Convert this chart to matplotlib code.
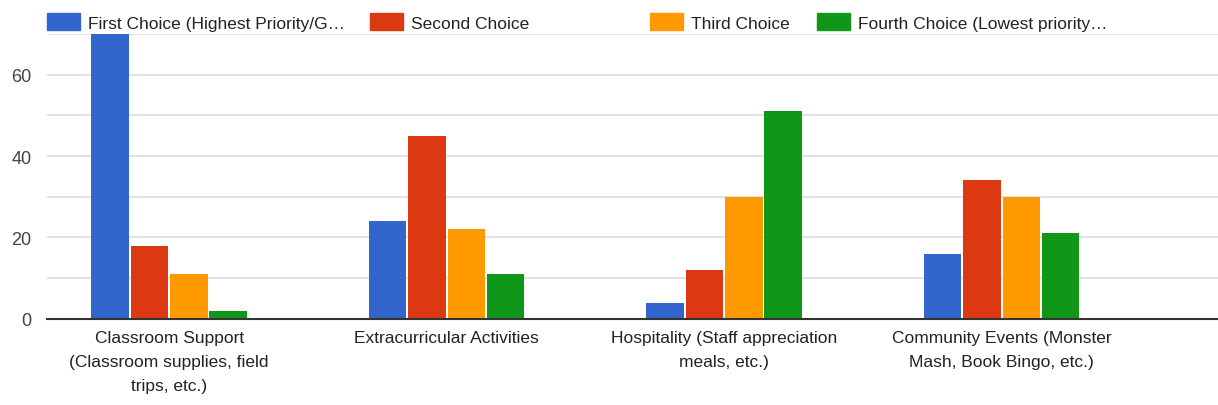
import matplotlib.pyplot as plt
from matplotlib.patches import Patch
import numpy as np

plt.rcParams['font.family'] = ['Liberation Sans', 'DejaVu Sans']

categories = ["Classroom Support\n(Classroom supplies, field\ntrips, etc.)",
              "Extracurricular Activities",
              "Hospitality (Staff appreciation\nmeals, etc.)",
              "Community Events (Monster\nMash, Book Bingo, etc.)"]
series_names = ["First Choice (Highest Priority/G…", "Second Choice",
                "Third Choice", "Fourth Choice (Lowest priority…"]
first = [70, 24, 4, 16]
second = [18, 45, 12, 34]
third = [11, 22, 30, 30]
fourth = [2, 11, 51, 21]
colors = ['#3366cc', '#dc3912', '#ff9900', '#109618']

fig = plt.figure(figsize=(12.18, 4.06), dpi=100)
ax = fig.add_axes([0.0386, 0.212, 0.9614, 0.702])

x = np.arange(len(categories))
w = 0.135
gap = 0.007
for i, vals in enumerate([first, second, third, fourth]):
    off = (i - 1.5) * (w + gap)
    ax.bar(x + off, vals, width=w, color=colors[i], zorder=3)

ax.set_xlim(-0.44, 3.78)
ax.set_ylim(0, 70)
ax.set_yticks([0, 20, 40, 60])
ax.set_yticks([10, 30, 50, 70], minor=True)
ax.grid(axis='y', which='both', color='#dddddd', linewidth=1.2, zorder=0)
ax.tick_params(axis='y', which='both', length=0, pad=11, labelsize=13, labelcolor='#444444')
ax.set_xticks(x)
ax.set_xticklabels(categories, fontsize=12.5, color='#222222', linespacing=1.75)
ax.tick_params(axis='x', length=0, pad=8)
for s in ['top', 'right', 'left']:
    ax.spines[s].set_visible(False)
ax.spines['bottom'].set_color('#333333')
ax.spines['bottom'].set_linewidth(1.5)
ax.spines['bottom'].set_zorder(4)

# legend entries placed like the google chart (uneven slots)
leg_x = [47, 370, 650, 817]
for i, name in enumerate(series_names):
    leg = fig.legend(handles=[Patch(color=colors[i])], labels=[name],
                     loc='center left', bbox_to_anchor=(leg_x[i] / 1218, 1 - 23 / 406),
                     frameon=False, fontsize=12.5, handlelength=1.9, handleheight=1.1,
                     handletextpad=0.45, borderpad=0, borderaxespad=0)
    leg.get_texts()[0].set_color('#222222')

fig.savefig('out.png', dpi=100, facecolor='white')
